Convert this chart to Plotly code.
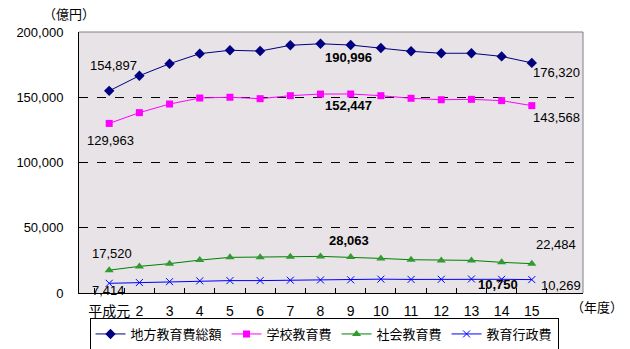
import plotly.graph_objects as go

years = ["平成元", "2", "3", "4", "5", "6", "7", "8", "9", "10", "11", "12", "13", "14", "15"]
total = [154897, 166500, 175700, 183400, 186000, 185400, 189800, 190996, 190000, 187700, 185200, 183700, 183700, 181300, 176320]
school = [129963, 138200, 144800, 149400, 150000, 148900, 151200, 152447, 152500, 151200, 149200, 148100, 148400, 147400, 143568]
social = [17520, 20400, 22500, 25200, 27300, 27300, 27800, 28063, 27500, 26500, 25500, 25000, 25000, 23500, 22484]
admin = [7414, 8000, 8700, 9300, 9500, 9500, 9800, 10000, 10100, 10600, 10400, 10500, 10750, 10500, 10269]
names = ["地方教育費総額", "学校教育費", "社会教育費", "教育行政費"]
yticks = [0, 50000, 100000, 150000, 200000]

FONT = "Liberation Sans, Arial, Noto Sans CJK JP, sans-serif"

fig = go.Figure()
fig.add_trace(go.Scatter(x=years, y=total, name=names[0], mode="lines+markers",
                         line=dict(color="#000080", width=1),
                         marker=dict(symbol="diamond", size=8, color="#000080")))
fig.add_trace(go.Scatter(x=years, y=school, name=names[1], mode="lines+markers",
                         line=dict(color="#FF00FF", width=1),
                         marker=dict(symbol="square", size=7, color="#FF00FF")))
fig.add_trace(go.Scatter(x=years, y=social, name=names[2], mode="lines+markers",
                         line=dict(color="#008000", width=1),
                         marker=dict(symbol="triangle-up", size=8, color="#339933")))
fig.add_trace(go.Scatter(x=years, y=admin, name=names[3], mode="lines+markers",
                         line=dict(color="#0000FF", width=1),
                         marker=dict(symbol="x-thin", size=7, color="#0000FF",
                                     line=dict(color="#0000FF", width=1))))

def lab(series, i, dx, dy, bold=False):
    v = series[i]
    t = f"{v:,}"
    if bold:
        t = f"<b>{t}</b>"
    fig.add_annotation(x=years[i], y=v, text=t, showarrow=False,
                       xshift=dx, yshift=-dy, font=dict(size=13, color="black", family=FONT))

lab(total, 0, 4, -25)
lab(total, 7, -2, 14, True)
lab(total, 14, -6, 10)
lab(school, 0, 1, 17)
lab(school, 7, -2, 11, True)
lab(school, 14, -6, 12)
lab(social, 0, 3, -17)
lab(social, 7, -2, -16, True)
lab(social, 14, -6, -19)
lab(admin, 0, -1, 7)
lab(admin, 12, -4, 6, True)
lab(admin, 14, -1, 6)

fig.add_annotation(xref="paper", yref="paper", x=(69 - 79) / 504, y=(293 - 14) / 261,
                   xanchor="center", yanchor="middle",
                   text="（億円）", showarrow=False, font=dict(size=13, family=FONT, color="black"))
fig.add_annotation(xref="paper", yref="paper", x=(597 - 79) / 504, y=(293 - 307) / 261,
                   xanchor="center", yanchor="middle",
                   text="（年度）", showarrow=False, font=dict(size=13, family=FONT, color="black"))

# gray top/right border
fig.add_shape(type="line", xref="paper", yref="paper", x0=0, x1=1, y0=1, y1=1,
              line=dict(color="#808080", width=1), layer="above")
fig.add_shape(type="line", xref="paper", yref="paper", x0=1, x1=1, y0=0, y1=1,
              line=dict(color="#808080", width=1), layer="above")

fig.update_layout(
    width=630, height=349,
    margin=dict(l=79, r=47, t=32, b=56, autoexpand=False),
    paper_bgcolor="white",
    plot_bgcolor="#E7E3E7",
    font=dict(family=FONT, size=13, color="black"),
    showlegend=True,
    legend=dict(orientation="h", xanchor="center", x=(324 - 79) / 504,
                yanchor="top", y=(293 - 318) / 261,
                bordercolor="black", borderwidth=1, bgcolor="white",
                font=dict(size=13, family=FONT), itemwidth=30,
                tracegroupgap=0),
)
fig.update_xaxes(type="category", tickson="boundaries", ticks="inside", ticklen=5,
                 tickcolor="black", showline=True, linecolor="black", linewidth=1,
                 showgrid=False, zeroline=False, tickangle=0, tickfont=dict(size=14),
                 ticklabelstandoff=5, automargin=False)
fig.update_yaxes(range=[0, 200000], tickvals=yticks,
                 ticktext=[f"{v:,}" for v in yticks], ticks="", ticklabelstandoff=12,
                 showline=True, linecolor="black", linewidth=1,
                 showgrid=True, gridcolor="black", griddash="dash", gridwidth=1,
                 zeroline=False, automargin=False)

fig.write_html("out.html")
